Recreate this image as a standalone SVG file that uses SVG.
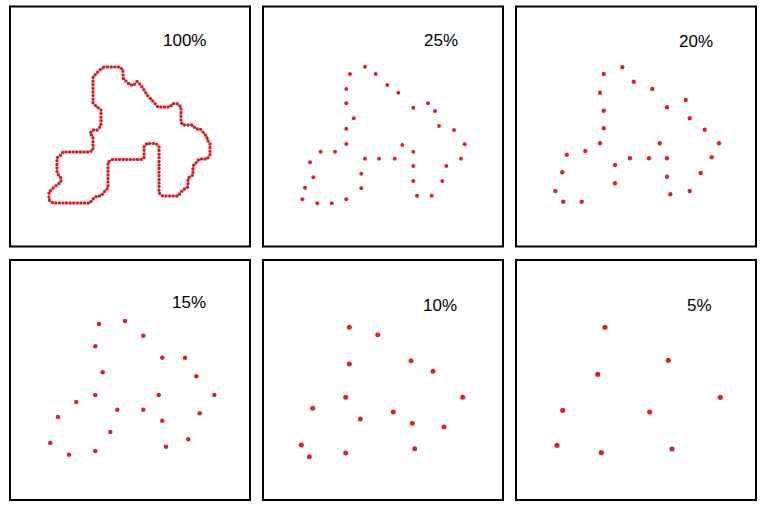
<svg xmlns="http://www.w3.org/2000/svg" width="762" height="509" viewBox="0 0 762 509">
<style>
.panel{fill:#fff;stroke:#000;stroke-width:2}
.lbl{font-family:"Liberation Sans",Arial,sans-serif;font-size:17px;fill:#000}
.d{fill:#d9242b}
.outline{fill:none;stroke:#d2222a;stroke-width:3.5;stroke-linecap:round;stroke-dasharray:0 3.6;stroke-linejoin:round}
</style>
<rect width="762" height="509" fill="#fff"/>
<g id="panel-100">
<rect class="panel" x="10" y="6.5" width="240" height="240"/>
<text class="lbl" x="163" y="46">100%</text>
<polyline class="outline" points="104,67 120,67 123,70 123,78 127,82 130,85 134,85 137,81.5 141,85 144,90 148,96 155,103.5 158,107 170,107 173,103.5 177,103.5 181,107 181,122 183,125 192,125 196,129 200,129 204,133 207,137 207,140 210,143 210,155 207,159 199,159 196,163 193,166 193,175 188,178 188,187 185,188.5 181,192 178,196 163,196 159,193 159,147 156,143.5 147,143.5 144,147 144,158 141,159.5 112,159.5 108,162 108,188 104,192 101,196 97,196 93,199 90,203 53,203 49,200 49,192 53,188 57,185 61,182 61,178 57,173 57,158 61,155 63,152 90,152 93,150 93,137 90,133 93,130 97,130 101,126 101,110 97,107 93,103 93,77 97,73 100,70 104,67"/>
</g>
<g id="panel-25">
<rect class="panel" x="263" y="6.5" width="240" height="240"/>
<text class="lbl" x="424" y="45.5">25%</text>
<g class="d">
<circle cx="365" cy="66.7" r="2"/><circle cx="350" cy="74" r="2"/><circle cx="375.7" cy="74" r="2"/><circle cx="387.3" cy="85" r="2"/><circle cx="398.3" cy="92.7" r="2"/><circle cx="346.3" cy="89" r="2"/><circle cx="346.3" cy="103.3" r="2"/><circle cx="413.3" cy="107.7" r="2"/><circle cx="428" cy="103.3" r="2"/><circle cx="435" cy="111" r="2"/><circle cx="353.7" cy="118.3" r="2"/><circle cx="439" cy="126" r="2"/><circle cx="454" cy="130" r="2"/><circle cx="346.3" cy="128.7" r="2"/><circle cx="464.7" cy="144.3" r="2"/><circle cx="346.3" cy="144" r="2"/><circle cx="402.3" cy="145" r="2"/><circle cx="320.7" cy="151.7" r="2"/><circle cx="335" cy="151.7" r="2"/><circle cx="413.3" cy="151.7" r="2"/><circle cx="365" cy="158.7" r="2"/><circle cx="379" cy="158.7" r="2"/><circle cx="394.7" cy="158.7" r="2"/><circle cx="461" cy="158.7" r="2"/><circle cx="310" cy="162.3" r="2"/><circle cx="413.3" cy="166" r="2"/><circle cx="446.3" cy="166" r="2"/><circle cx="313.3" cy="177.3" r="2"/><circle cx="361.3" cy="173.7" r="2"/><circle cx="413.3" cy="181" r="2"/><circle cx="442.3" cy="181" r="2"/><circle cx="305" cy="187.7" r="2"/><circle cx="361.3" cy="188.3" r="2"/><circle cx="417" cy="195.7" r="2"/><circle cx="431.7" cy="195.7" r="2"/><circle cx="302.3" cy="199.3" r="2"/><circle cx="317.3" cy="203.3" r="2"/><circle cx="331.7" cy="203.3" r="2"/><circle cx="346.3" cy="199.3" r="2"/>
</g>
</g>
<g id="panel-20">
<rect class="panel" x="516" y="6.5" width="240" height="240"/>
<text class="lbl" x="679" y="46.5">20%</text>
<g class="d">
<circle cx="622.3" cy="67.3" r="2.2"/><circle cx="603.7" cy="74" r="2.2"/><circle cx="633.7" cy="81.7" r="2.2"/><circle cx="652.3" cy="89" r="2.2"/><circle cx="600" cy="92.7" r="2.2"/><circle cx="685.7" cy="100" r="2.2"/><circle cx="667" cy="107.3" r="2.2"/><circle cx="603.7" cy="110.7" r="2.2"/><circle cx="689.7" cy="118.3" r="2.2"/><circle cx="603.7" cy="128.3" r="2.2"/><circle cx="704.7" cy="129.7" r="2.2"/><circle cx="600" cy="143.3" r="2.2"/><circle cx="659.7" cy="143.3" r="2.2"/><circle cx="719" cy="143.3" r="2.2"/><circle cx="585.3" cy="151" r="2.2"/><circle cx="566.7" cy="154.7" r="2.2"/><circle cx="630" cy="158.3" r="2.2"/><circle cx="649" cy="158.3" r="2.2"/><circle cx="667" cy="158.3" r="2.2"/><circle cx="711.7" cy="157.3" r="2.2"/><circle cx="615" cy="165" r="2.2"/><circle cx="562.3" cy="172.3" r="2.2"/><circle cx="700.7" cy="173" r="2.2"/><circle cx="667" cy="176.7" r="2.2"/><circle cx="615" cy="183.3" r="2.2"/><circle cx="555.3" cy="191" r="2.2"/><circle cx="689.7" cy="191" r="2.2"/><circle cx="670.3" cy="194.3" r="2.2"/><circle cx="563.3" cy="201.7" r="2.2"/><circle cx="581.7" cy="201.7" r="2.2"/>
</g>
</g>
<g id="panel-15">
<rect class="panel" x="10" y="260" width="240" height="240"/>
<text class="lbl" x="172" y="308.3">15%</text>
<g class="d">
<circle cx="99" cy="324" r="2.3"/><circle cx="125" cy="321" r="2.3"/><circle cx="143.3" cy="335.7" r="2.3"/><circle cx="95.3" cy="346.3" r="2.3"/><circle cx="162.3" cy="357.7" r="2.3"/><circle cx="185" cy="357.7" r="2.3"/><circle cx="102.7" cy="372.3" r="2.3"/><circle cx="196.3" cy="376.3" r="2.3"/><circle cx="95.3" cy="395" r="2.3"/><circle cx="158.7" cy="395" r="2.3"/><circle cx="214.3" cy="395" r="2.3"/><circle cx="76.3" cy="402" r="2.3"/><circle cx="117.3" cy="409.7" r="2.3"/><circle cx="143.3" cy="409.7" r="2.3"/><circle cx="58" cy="417" r="2.3"/><circle cx="199.7" cy="413.3" r="2.3"/><circle cx="162.3" cy="420.7" r="2.3"/><circle cx="110.3" cy="432" r="2.3"/><circle cx="188.3" cy="439.3" r="2.3"/><circle cx="50.3" cy="443" r="2.3"/><circle cx="166" cy="446.7" r="2.3"/><circle cx="95.3" cy="451" r="2.3"/><circle cx="69" cy="454.7" r="2.3"/>
</g>
</g>
<g id="panel-10">
<rect class="panel" x="263" y="260" width="240" height="240"/>
<text class="lbl" x="423" y="311.3">10%</text>
<g class="d">
<circle cx="349.3" cy="327.3" r="2.5"/><circle cx="377.7" cy="334.7" r="2.5"/><circle cx="349.3" cy="364" r="2.5"/><circle cx="411" cy="360.7" r="2.5"/><circle cx="433" cy="371.3" r="2.5"/><circle cx="345.7" cy="397.3" r="2.5"/><circle cx="462.7" cy="397.3" r="2.5"/><circle cx="312.7" cy="408.3" r="2.5"/><circle cx="393.3" cy="412" r="2.5"/><circle cx="360.3" cy="419" r="2.5"/><circle cx="412.3" cy="423.3" r="2.5"/><circle cx="444" cy="427" r="2.5"/><circle cx="301.3" cy="445" r="2.5"/><circle cx="414.7" cy="448.7" r="2.5"/><circle cx="309.3" cy="456.7" r="2.5"/><circle cx="345.7" cy="453" r="2.5"/>
</g>
</g>
<g id="panel-5">
<rect class="panel" x="516" y="260" width="240" height="240"/>
<text class="lbl" x="687" y="310.7">5%</text>
<g class="d">
<circle cx="605" cy="327.3" r="2.6"/><circle cx="668.3" cy="360.3" r="2.6"/><circle cx="597.7" cy="374.3" r="2.6"/><circle cx="720.3" cy="397.3" r="2.6"/><circle cx="562.7" cy="410.3" r="2.6"/><circle cx="649.7" cy="412" r="2.6"/><circle cx="557" cy="445.3" r="2.6"/><circle cx="601.3" cy="452.7" r="2.6"/><circle cx="672" cy="449" r="2.6"/>
</g>
</g>
<g id="connectors"></g>
</svg>
